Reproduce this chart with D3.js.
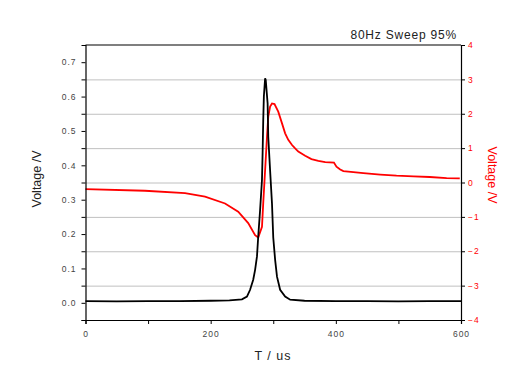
<!DOCTYPE html>
<html lang="en">
<head>
<meta charset="UTF-8">
<title>80Hz Sweep 95%</title>
<script src="https://cdn.jsdelivr.net/npm/d3@7"></script>
<style>
  body { margin: 0; background: #fff; }
  svg { display: block; font-family: "Liberation Sans", Arial, sans-serif; }
</style>
</head>
<body>
<div id="chart"></div>
<script>
// data
var blackT = [0, 50, 100, 150, 200, 230, 250, 258, 263, 268, 271, 274, 276, 279, 282, 283, 284, 285, 287, 288, 291, 292, 295, 298, 300, 303, 306, 311, 319, 327, 350, 400, 450, 500, 550, 600];
var blackV = [0.005, 0.004, 0.005, 0.005, 0.006, 0.007, 0.010, 0.018, 0.038, 0.067, 0.096, 0.135, 0.193, 0.270, 0.358, 0.436, 0.532, 0.600, 0.653, 0.648, 0.580, 0.483, 0.384, 0.288, 0.190, 0.125, 0.076, 0.038, 0.018, 0.009, 0.006, 0.005, 0.005, 0.004, 0.005, 0.005];

var redT = [0, 95, 159, 191, 223, 244, 260, 271, 276, 282, 284, 287, 290, 292, 295, 298, 302, 308, 314, 319, 324, 330, 335, 340, 351, 361, 372, 383, 397, 401, 407, 412, 428, 444, 471, 497, 524, 550, 577, 598];
var redV = [-0.19, -0.24, -0.31, -0.41, -0.61, -0.85, -1.18, -1.53, -1.60, -1.29, -0.60, 0.36, 1.33, 1.91, 2.21, 2.30, 2.28, 2.06, 1.72, 1.43, 1.24, 1.09, 0.99, 0.90, 0.78, 0.68, 0.63, 0.59, 0.58, 0.46, 0.38, 0.33, 0.30, 0.27, 0.23, 0.20, 0.18, 0.16, 0.13, 0.12];

var leftTicks = [0, 0.1, 0.2, 0.3, 0.4, 0.5, 0.6, 0.7];
var leftMinor = [-0.05, 0.05, 0.15, 0.25, 0.35, 0.45, 0.55, 0.65];
var rightTicks = [-4, -3, -2, -1, 0, 1, 2, 3, 4];
var xTicks = [0, 100, 200, 300, 400, 500, 600];
var xLabels = [0, 200, 400, 600];

var W = 531, H = 392;
var L = 85.5, R = 461, T = 45, B = 320;

var svg = d3.select("#chart").append("svg")
    .attr("width", W).attr("height", H);

var x = d3.scaleLinear().domain([0, 600]).range([L, R]);
var yL = d3.scaleLinear().domain([-0.05, 0.75]).range([B, T]);
var yR = d3.scaleLinear().domain([-4, 4]).range([B, T]);

// grid lines (from right axis)
svg.append("g").selectAll("line")
    .data(rightTicks.filter(function(d) { return d > -4 && d < 4; }))
    .join("line")
    .attr("x1", L).attr("x2", R)
    .attr("y1", function(d) { return yR(d) + 0.5; })
    .attr("y2", function(d) { return yR(d) + 0.5; })
    .attr("stroke", "#c0c0c0").attr("stroke-width", 1);

// curves
var lineB = d3.line()
    .x(function(d, i) { return x(blackT[i]); })
    .y(function(d) { return yL(d); });
var lineR = d3.line()
    .x(function(d, i) { return x(redT[i]); })
    .y(function(d) { return yR(d); });

svg.append("path").datum(redV)
    .attr("d", lineR).attr("fill", "none")
    .attr("stroke", "#ff0000").attr("stroke-width", 1.8);

svg.append("path").datum(blackV)
    .attr("d", lineB).attr("fill", "none")
    .attr("stroke", "#000").attr("stroke-width", 1.8);

// top frame line
svg.append("line")
    .attr("x1", L).attr("x2", R).attr("y1", T).attr("y2", T)
    .attr("stroke", "#000").attr("stroke-width", 1.2);

function styleAxis(g, color) {
    g.select(".domain").attr("stroke", "#000").attr("stroke-width", 1.2);
    g.selectAll(".tick line").attr("stroke", "#000");
    g.selectAll(".tick text")
        .attr("fill", color)
        .style("font-size", "8.5px")
        .style("letter-spacing", "1px");
}

// left axis
var gL = svg.append("g").attr("transform", "translate(" + L + ",0)")
    .call(d3.axisLeft(yL).tickValues(leftTicks.concat(leftMinor))
        .tickSize(4).tickPadding(5)
        .tickFormat(function(d) { return leftTicks.indexOf(d) >= 0 ? d3.format(".1f")(d) : ""; }));
styleAxis(gL, "#444");

// right axis
var gR = svg.append("g").attr("transform", "translate(" + R + ",0)")
    .call(d3.axisRight(yR).tickValues(rightTicks).tickSize(4).tickPadding(3)
        .tickFormat(d3.format("d")));
styleAxis(gR, "#ff0000");

// bottom axis
var gB = svg.append("g").attr("transform", "translate(0," + B + ")")
    .call(d3.axisBottom(x).tickValues(xTicks).tickSize(4).tickPadding(7)
        .tickFormat(function(d) { return xLabels.indexOf(d) >= 0 ? d : ""; }));
styleAxis(gB, "#444");

// titles
svg.append("text")
    .attr("transform", "translate(41,179) rotate(-90)")
    .attr("text-anchor", "middle")
    .style("font-size", "12.5px").attr("fill", "#222")
    .text("Voltage /V");

svg.append("text")
    .attr("transform", "translate(488,175) rotate(90)")
    .attr("text-anchor", "middle")
    .style("font-size", "12.5px").attr("fill", "#ff0000")
    .text("Voltage /V");

svg.append("text")
    .attr("x", 273).attr("y", 360)
    .attr("text-anchor", "middle")
    .style("font-size", "12.5px").style("letter-spacing", "1px").attr("fill", "#222")
    .text("T / us");

svg.append("text")
    .attr("x", 457).attr("y", 39)
    .attr("text-anchor", "end")
    .style("font-size", "12px").style("letter-spacing", "0.8px").attr("fill", "#222")
    .text("80Hz Sweep 95%");
</script>
</body>
</html>
